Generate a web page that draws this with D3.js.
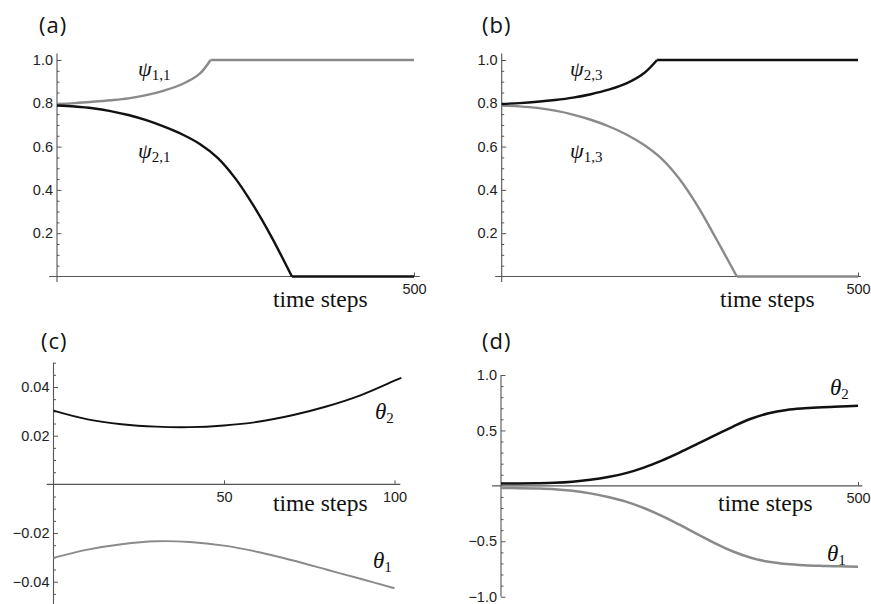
<!DOCTYPE html>
<html>
<head>
<meta charset="utf-8">
<script src="https://cdn.jsdelivr.net/npm/d3@7"></script>
<style>
  body { margin: 0; background: #fff; }
  svg { display: block; }
  .tick text { font-family: "Liberation Sans", Arial, sans-serif; font-size: 14.5px; fill: #222; }
  .axisline { stroke: #555; stroke-width: 1.1; }
  .panel-label { font-family: "Open Sans", Lato, sans-serif; font-size: 22px; letter-spacing: 1px; fill: #111; }
  .xlabel { font-family: "Liberation Serif", "Times New Roman", serif; font-size: 23.5px; fill: #111; }
  .sym { font-family: "Liberation Serif", "Times New Roman", serif; fill: #111; }
</style>
</head>
<body>
<svg id="fig" width="871" height="604"></svg>
<script>
// ---- data ----
// (a)
var tPsi11 = [0, 25, 50, 75, 100, 125, 150, 175, 200, 215, 500];
var psi11  = [0.797, 0.801, 0.807, 0.814, 0.823, 0.838, 0.859, 0.888, 0.937, 1.0, 1.0];
var tPsi21 = [0, 25, 50, 75, 100, 125, 150, 175, 200, 225, 250, 275, 300, 329, 500];
var psi21  = [0.790, 0.785, 0.777, 0.764, 0.746, 0.722, 0.692, 0.657, 0.612, 0.548, 0.452, 0.328, 0.185, 0, 0];
// (b)
var tPsi23 = [0, 25, 50, 75, 100, 125, 150, 175, 200, 218, 500];
var psi23  = [0.797, 0.801, 0.807, 0.815, 0.826, 0.842, 0.863, 0.892, 0.940, 1.0, 1.0];
var tPsi13 = [0, 25, 50, 75, 100, 125, 150, 175, 200, 225, 250, 275, 300, 330, 500];
var psi13  = [0.790, 0.786, 0.779, 0.766, 0.748, 0.724, 0.694, 0.656, 0.607, 0.542, 0.448, 0.325, 0.180, 0, 0];
// (c)
var tTheta2c = [0, 10, 20, 30, 40, 50, 60, 70, 80, 90, 100, 102];
var theta2c  = [0.0303, 0.0267, 0.0247, 0.0237, 0.0235, 0.0242, 0.0257, 0.0284, 0.0320, 0.0366, 0.0426, 0.0438];
var tTheta1c = [0, 10, 20, 30, 40, 50, 60, 70, 80, 90, 100];
var theta1c  = [-0.0302, -0.0268, -0.0246, -0.0234, -0.0237, -0.0252, -0.0278, -0.0312, -0.0350, -0.0388, -0.0427];
// (d)
var tTheta = [0, 25, 50, 75, 100, 125, 150, 175, 200, 225, 250, 275, 300, 325, 350, 375, 400, 425, 450, 475, 500];
var theta2d = [0.022, 0.022, 0.024, 0.028, 0.038, 0.055, 0.080, 0.115, 0.165, 0.228, 0.300, 0.378, 0.458, 0.535, 0.605, 0.655, 0.685, 0.700, 0.710, 0.716, 0.722];
var theta1d = [-0.020, -0.021, -0.024, -0.030, -0.045, -0.068, -0.100, -0.142, -0.200, -0.270, -0.350, -0.435, -0.518, -0.592, -0.648, -0.685, -0.705, -0.716, -0.722, -0.726, -0.730];

// tick values
var yMajorPsi = [0.2, 0.4, 0.6, 0.8, 1.0];
var yMajorC = [-0.04, -0.02, 0.02, 0.04];
var yMajorD = [-1.0, -0.5, 0.5, 1.0];
var xMajorAB = [500];
var xMajorC = [50, 100];

var BLACK = "#111", GRAY = "#8a8a8a";

function minorTicks(lo, hi, step, major) {
  return d3.range(Math.round(lo / step), Math.round(hi / step) + 1)
    .filter(function(k) { return k !== 0 && Math.abs((k * step) / major - Math.round((k * step) / major)) > 1e-6; })
    .map(function(k) { return k * step; });
}

var svg = d3.select("#fig");

function drawPanel(p) {
  var g = svg.append("g");
  var x = d3.scaleLinear().domain(p.xDomain).range(p.xRange);
  var y = d3.scaleLinear().domain(p.yDomain).range(p.yRange);

  // y ticks (pointing into the plot, labels on the left)
  g.append("g")
    .attr("transform", "translate(" + x(0) + ",0)")
    .attr("color", "#555")
    .call(d3.axisLeft(y).tickValues(p.yMinor).tickFormat("").tickSizeInner(-2.5).tickSizeOuter(0))
    .call(function(s) { s.select(".domain").remove(); });
  g.append("g")
    .attr("transform", "translate(" + x(0) + ",0)")
    .attr("color", "#555")
    .call(d3.axisLeft(y).tickValues(p.yMajor).tickFormat(d3.format(p.yFormat))
      .tickSizeInner(-4.5).tickSizeOuter(0).tickPadding(4))
    .call(function(s) { s.select(".domain").remove(); });

  // x ticks
  g.append("g")
    .attr("transform", "translate(0," + y(0) + ")")
    .attr("color", "#555")
    .call(d3.axisBottom(x).tickValues(p.xMajor).tickFormat(d3.format("d"))
      .tickSizeInner(-4).tickSizeOuter(0).tickPadding(7))
    .call(function(s) { s.select(".domain").remove(); });

  // axis lines
  g.append("line").attr("class", "axisline")
    .attr("x1", x(p.xExtent[0])).attr("x2", x(p.xExtent[1]))
    .attr("y1", y(0)).attr("y2", y(0));
  g.append("line").attr("class", "axisline")
    .attr("x1", x(0)).attr("x2", x(0))
    .attr("y1", y(p.yExtent[0])).attr("y2", y(p.yExtent[1]));

  // curves
  var line = d3.line().x(function(d) { return x(d[0]); }).y(function(d) { return y(d[1]); })
    .curve(d3.curveCatmullRom.alpha(0.5));
  p.series.forEach(function(s) {
    var pts = s.t.map(function(t, i) { return [t, s.v[i]]; });
    // split off a flat tail so that the corner stays sharp
    var k = s.v.findIndex(function(v, i) { return i > 0 && i < s.v.length - 1 && v === s.v[i + 1]; });
    var parts = k > 0 ? [pts.slice(0, k + 1), pts.slice(k)] : [pts];
    parts.forEach(function(part) {
      g.append("path").datum(part)
        .attr("d", line)
        .attr("fill", "none")
        .attr("stroke", s.color)
        .attr("stroke-width", p.lineWidth);
    });
  });

  // symbols next to curves
  p.labels.forEach(function(l) {
    var t = g.append("text").attr("class", "sym").attr("x", l.x).attr("y", l.y);
    t.append("tspan").attr("font-style", "italic").attr("font-size", l.size).text(l.sym);
    t.append("tspan").attr("dy", 4).attr("font-size", 15).text(l.sub);
  });

  g.append("text").attr("class", "xlabel").attr("x", p.xlabel[0]).attr("y", p.xlabel[1]).text("time steps");
  g.append("text").attr("class", "panel-label").attr("x", p.tag[0]).attr("y", p.tag[1]).text(p.tagText);
}

drawPanel({
  tagText: "(a)", tag: [39, 33], xlabel: [273, 307],
  xDomain: [0, 500], xRange: [57, 414], yDomain: [0, 1], yRange: [276.5, 60],
  xExtent: [-11, 508], yExtent: [-0.025, 1.03],
  yMajor: yMajorPsi, yMinor: minorTicks(0, 1, 0.05, 0.2), yFormat: ".1f", xMajor: xMajorAB,
  lineWidth: 2.4,
  series: [
    { t: tPsi11, v: psi11, color: GRAY },
    { t: tPsi21, v: psi21, color: BLACK }
  ],
  labels: [
    { sym: "ψ", sub: "1,1", x: 138, y: 76, size: 22 },
    { sym: "ψ", sub: "2,1", x: 138, y: 158, size: 22 }
  ]
});

drawPanel({
  tagText: "(b)", tag: [482, 33], xlabel: [720, 307],
  xDomain: [0, 500], xRange: [501.7, 858], yDomain: [0, 1], yRange: [276.5, 60],
  xExtent: [-9, 504], yExtent: [-0.025, 1.03],
  yMajor: yMajorPsi, yMinor: minorTicks(0, 1, 0.05, 0.2), yFormat: ".1f", xMajor: xMajorAB,
  lineWidth: 2.4,
  series: [
    { t: tPsi13, v: psi13, color: GRAY },
    { t: tPsi23, v: psi23, color: BLACK }
  ],
  labels: [
    { sym: "ψ", sub: "2,3", x: 570, y: 76, size: 22 },
    { sym: "ψ", sub: "1,3", x: 570, y: 158, size: 22 }
  ]
});

drawPanel({
  tagText: "(c)", tag: [41, 349], xlabel: [273, 511],
  xDomain: [0, 100], xRange: [53.5, 394.5], yDomain: [-0.04, 0.04], yRange: [581.7, 387],
  xExtent: [-2, 101.7], yExtent: [-0.052, 0.05],
  yMajor: yMajorC, yMinor: minorTicks(-0.05, 0.05, 0.005, 0.02), yFormat: ".2f", xMajor: xMajorC,
  lineWidth: 1.9,
  series: [
    { t: tTheta2c, v: theta2c, color: BLACK },
    { t: tTheta1c, v: theta1c, color: GRAY }
  ],
  labels: [
    { sym: "θ", sub: "2", x: 375, y: 419, size: 23 },
    { sym: "θ", sub: "1", x: 373, y: 568, size: 23 }
  ]
});

drawPanel({
  tagText: "(d)", tag: [482, 349], xlabel: [718, 511],
  xDomain: [0, 500], xRange: [501, 858], yDomain: [-1, 1], yRange: [596.7, 375],
  xExtent: [-12.5, 506], yExtent: [-1, 1],
  yMajor: yMajorD, yMinor: minorTicks(-1, 1, 0.1, 0.5), yFormat: ".1f", xMajor: xMajorAB,
  lineWidth: 2.5,
  series: [
    { t: tTheta, v: theta1d, color: GRAY },
    { t: tTheta, v: theta2d, color: BLACK }
  ],
  labels: [
    { sym: "θ", sub: "2", x: 830, y: 395, size: 23 },
    { sym: "θ", sub: "1", x: 827, y: 561, size: 23 }
  ]
});
</script>
</body>
</html>
